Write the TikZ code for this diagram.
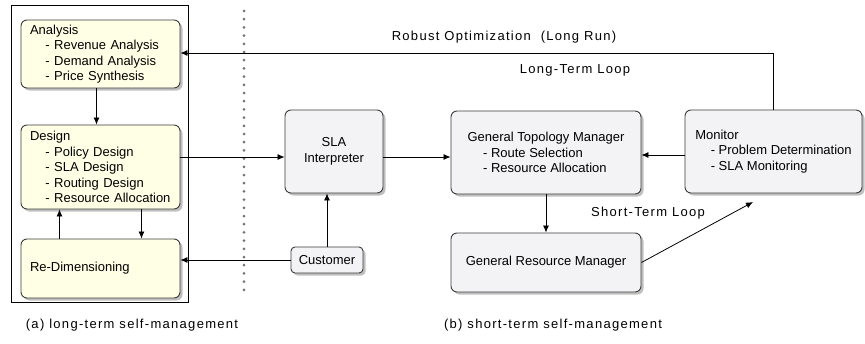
\documentclass[tikz,border=0pt]{standalone}
\usepackage{fontspec}
\setmainfont{Liberation Sans}
\usetikzlibrary{arrows.meta, shadows}

\definecolor{ltmfill}{RGB}{255,255,230}
\definecolor{stmfill}{RGB}{243,243,245}
\definecolor{boxline}{RGB}{60,60,60}

\newcommand{\subitm}[1]{\\\hspace*{15.5pt}- #1}

\tikzset{
	blk/.style={draw=boxline, line width=0.9pt, rounded corners=6pt, drop shadow={shadow xshift=2.5pt, shadow yshift=-2.5pt, fill=black!50}, font=\fontsize{13}{15.5}\selectfont},
	ltm/.style={blk, fill=ltmfill, text width=141pt, inner xsep=9pt, align=left},
	stm/.style={blk, fill=stmfill, align=left},
	arr/.style={-{Latex[length=7pt,width=6pt]}, line width=0.8pt},
	lbl/.style={font=\fontsize{13}{15.5}\selectfont\addfontfeature{LetterSpace=10}},
}

\begin{document}
\begin{tikzpicture}[x=1pt, y=-1pt]
	\useasboundingbox (0,0) rectangle (865,343);
	\coordinate (row) at (0,157); \coordinate (fb) at (0,155); \coordinate (stend) at (753,202);

	% long-term side
	\draw[line width=0.8pt] (11,5) rectangle (188,302);
	\node[ltm, minimum height=68pt] (ana) at (100.5,54) {Analysis\subitm{Revenue Analysis}\subitm{Demand Analysis}\subitm{Price Synthesis}};
	\node[ltm, minimum height=84pt] (des) at (100.5,167) {Design\subitm{Policy Design}\subitm{SLA Design}\subitm{Routing Design}\subitm{Resource Allocation}};
	\node[ltm, minimum height=59pt] (red) at (100.5,268.5) {Re-Dimensioning};
	\draw[black!55, line width=3pt, line cap=round, dash pattern=on 0pt off 8.2pt] (244,11) -- (244,294);

	% short-term side
	\node[stm, align=center, minimum width=98pt, minimum height=83pt] (sla) at (334,151.5) {SLA\\Interpreter};
	\node[stm, minimum width=190pt, minimum height=83pt] (gtm) at (546,152.5) {General Topology Manager\subitm{Route Selection}\subitm{Resource Allocation}};
	\node[stm, minimum width=177pt, minimum height=83pt] (mon) at (773.5,151.5) {Monitor\subitm{Problem Determination}\subitm{SLA Monitoring}};
	\node[stm, align=center, minimum width=190pt, minimum height=59pt] (grm) at (546,262.5) {General Resource Manager};
	\node[stm, align=center, rounded corners=4pt, minimum width=72pt, minimum height=26pt, inner sep=2pt] (cust) at (327,260) {Customer};

	\node[lbl] (robust) at (504,37) {Robust Optimization\ \ (Long Run)};
	\node[lbl] (ltl) at (575,70) {Long-Term Loop};
	\node[lbl] (stl) at (648,213) {Short-Term Loop};
	\node[lbl] (capa) at (132,325) {(a) long-term self-management};
	\node[lbl] (capb) at (553,325) {(b) short-term self-management};

	% connectors
	\draw[arr] ([xshift=-4pt]ana.south) -- ([xshift=-4pt]des.north);
	\draw[arr] ([xshift=41pt]des.south) -- ([xshift=41pt]red.north);
	\draw[arr] ([xshift=-41pt]red.north) -- ([xshift=-41pt]des.south);
	\draw[arr] (des.east |- row) -- (sla.west |- row);
	\draw[arr] (sla.east |- row) -- (gtm.west |- row);
	\draw[arr] (mon.west |- fb) -- (gtm.east |- fb);
	\draw[arr] (gtm.south) -- (grm.north);
	\draw[arr] (grm.east) -- (stend);
	\draw[arr] (cust.north) -- (sla.south -| cust.north);
	\draw[arr] (cust.west) -- (red.east |- cust.west);
	\draw[arr] (mon.north) |- (ana.east |- 0,53);
\end{tikzpicture}
\end{document}
